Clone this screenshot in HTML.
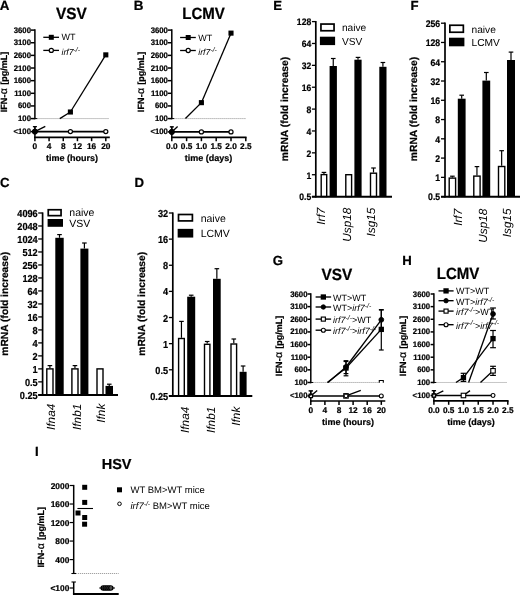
<!DOCTYPE html>
<html><head><meta charset="utf-8"><title>Figure</title>
<style>html,body{margin:0;padding:0;background:#fff;}svg{display:block;}text{font-family:"Liberation Sans", Arial, sans-serif;fill:#000;text-rendering:geometricPrecision;}</style></head><body>
<svg width="520" height="595" viewBox="0 0 520 595">
<rect x="0" y="0" width="520" height="595" fill="#fff"/>
<g>
<text x="-0.30" y="9.50" text-anchor="start" style="font-size:13.4px;font-weight:bold;stroke:#000;stroke-width:0.22px;" >A</text>
<text x="0" y="0" text-anchor="middle" style="font-size:16.2px;font-weight:bold;stroke:#000;stroke-width:0.22px;" transform="translate(71.40 18.80) scale(0.95 1)" >VSV</text>
<line x1="34.90" y1="29.35" x2="34.90" y2="119.33" stroke="#000" stroke-width="1.5" />
<line x1="30.90" y1="30.10" x2="34.90" y2="30.10" stroke="#000" stroke-width="1.5" />
<text x="0" y="0" text-anchor="end" style="font-size:8px;font-weight:bold;stroke:#000;stroke-width:0.22px;" transform="translate(31.00 32.63) scale(0.97 1)" >3600</text>
<line x1="30.90" y1="42.74" x2="34.90" y2="42.74" stroke="#000" stroke-width="1.5" />
<text x="0" y="0" text-anchor="end" style="font-size:8px;font-weight:bold;stroke:#000;stroke-width:0.22px;" transform="translate(31.00 45.27) scale(0.97 1)" >3100</text>
<line x1="30.90" y1="55.38" x2="34.90" y2="55.38" stroke="#000" stroke-width="1.5" />
<text x="0" y="0" text-anchor="end" style="font-size:8px;font-weight:bold;stroke:#000;stroke-width:0.22px;" transform="translate(31.00 57.91) scale(0.97 1)" >2600</text>
<line x1="30.90" y1="68.02" x2="34.90" y2="68.02" stroke="#000" stroke-width="1.5" />
<text x="0" y="0" text-anchor="end" style="font-size:8px;font-weight:bold;stroke:#000;stroke-width:0.22px;" transform="translate(31.00 70.55) scale(0.97 1)" >2100</text>
<line x1="30.90" y1="80.66" x2="34.90" y2="80.66" stroke="#000" stroke-width="1.5" />
<text x="0" y="0" text-anchor="end" style="font-size:8px;font-weight:bold;stroke:#000;stroke-width:0.22px;" transform="translate(31.00 83.19) scale(0.97 1)" >1600</text>
<line x1="30.90" y1="93.30" x2="34.90" y2="93.30" stroke="#000" stroke-width="1.5" />
<text x="0" y="0" text-anchor="end" style="font-size:8px;font-weight:bold;stroke:#000;stroke-width:0.22px;" transform="translate(31.00 95.83) scale(0.97 1)" >1100</text>
<line x1="30.90" y1="105.94" x2="34.90" y2="105.94" stroke="#000" stroke-width="1.5" />
<text x="0" y="0" text-anchor="end" style="font-size:8px;font-weight:bold;stroke:#000;stroke-width:0.22px;" transform="translate(31.00 108.47) scale(0.97 1)" >600</text>
<line x1="30.90" y1="118.58" x2="34.90" y2="118.58" stroke="#000" stroke-width="1.5" />
<text x="0" y="0" text-anchor="end" style="font-size:8px;font-weight:bold;stroke:#000;stroke-width:0.22px;" transform="translate(31.00 121.11) scale(0.97 1)" >100</text>
<line x1="32.40" y1="118.58" x2="37.40" y2="118.58" stroke="#000" stroke-width="1.0" />
<line x1="37.40" y1="118.58" x2="109.00" y2="118.58" stroke="#888" stroke-width="0.8" stroke-dasharray="1.2 0.8"/>
<line x1="34.90" y1="126.60" x2="34.90" y2="137.95" stroke="#000" stroke-width="1.5" />
<line x1="32.90" y1="126.60" x2="36.90" y2="126.60" stroke="#000" stroke-width="1.0" />
<line x1="30.90" y1="131.60" x2="34.90" y2="131.60" stroke="#000" stroke-width="1.5" />
<text x="0" y="0" text-anchor="end" style="font-size:8px;font-weight:bold;stroke:#000;stroke-width:0.22px;" transform="translate(31.00 134.13) scale(0.97 1)" >&lt;100</text>
<line x1="34.15" y1="137.30" x2="109.80" y2="137.30" stroke="#000" stroke-width="1.7" />
<line x1="34.90" y1="137.20" x2="34.90" y2="141.20" stroke="#000" stroke-width="1.5" />
<text x="34.90" y="149.00" text-anchor="middle" style="font-size:8.3px;font-weight:bold;stroke:#000;stroke-width:0.22px;" >0</text>
<line x1="49.08" y1="137.20" x2="49.08" y2="141.20" stroke="#000" stroke-width="1.5" />
<text x="49.08" y="149.00" text-anchor="middle" style="font-size:8.3px;font-weight:bold;stroke:#000;stroke-width:0.22px;" >4</text>
<line x1="63.26" y1="137.20" x2="63.26" y2="141.20" stroke="#000" stroke-width="1.5" />
<text x="63.26" y="149.00" text-anchor="middle" style="font-size:8.3px;font-weight:bold;stroke:#000;stroke-width:0.22px;" >8</text>
<line x1="77.44" y1="137.20" x2="77.44" y2="141.20" stroke="#000" stroke-width="1.5" />
<text x="77.44" y="149.00" text-anchor="middle" style="font-size:8.3px;font-weight:bold;stroke:#000;stroke-width:0.22px;" >12</text>
<line x1="91.62" y1="137.20" x2="91.62" y2="141.20" stroke="#000" stroke-width="1.5" />
<text x="91.62" y="149.00" text-anchor="middle" style="font-size:8.3px;font-weight:bold;stroke:#000;stroke-width:0.22px;" >16</text>
<line x1="105.80" y1="137.20" x2="105.80" y2="141.20" stroke="#000" stroke-width="1.5" />
<text x="105.80" y="149.00" text-anchor="middle" style="font-size:8.3px;font-weight:bold;stroke:#000;stroke-width:0.22px;" >20</text>
<text x="72.00" y="160.80" text-anchor="middle" style="font-size:9px;font-weight:bold;stroke:#000;stroke-width:0.22px;" >time (hours)</text>
<text x="7.00" y="82.10" text-anchor="middle" style="font-size:9px;font-weight:bold;stroke:#000;stroke-width:0.22px;" transform="rotate(-90 7.00 82.10)" ><tspan style="letter-spacing:0.1px">IFN-</tspan><tspan dx="0.3" style="font-weight:normal;font-size:10.5px">&#945;</tspan><tspan dx="0.7"> [pg/mL]</tspan></text>
<line x1="34.90" y1="131.60" x2="105.80" y2="131.60" stroke="#000" stroke-width="1.6" />
<line x1="34.90" y1="131.60" x2="45.30" y2="126.30" stroke="#000" stroke-width="1.3" />
<line x1="59.80" y1="118.58" x2="70.40" y2="112.01" stroke="#000" stroke-width="1.3" />
<line x1="70.40" y1="112.01" x2="105.80" y2="54.87" stroke="#000" stroke-width="1.3" />
<rect x="67.85" y="109.46" width="5.1" height="5.1" fill="#000"/>
<rect x="103.25" y="52.32" width="5.1" height="5.1" fill="#000"/>
<circle cx="70.40" cy="131.60" r="2.05" fill="#fff" stroke="#000" stroke-width="1.2"/>
<circle cx="105.80" cy="131.60" r="2.05" fill="#fff" stroke="#000" stroke-width="1.2"/>
<circle cx="34.90" cy="131.60" r="2.6" fill="#000" stroke="#000" stroke-width="1.0"/>
<line x1="34.90" y1="126.80" x2="34.90" y2="131.60" stroke="#000" stroke-width="1.0" />
<line x1="33.10" y1="126.80" x2="36.70" y2="126.80" stroke="#000" stroke-width="1.0" />
<line x1="43.30" y1="37.30" x2="59.00" y2="37.30" stroke="#000" stroke-width="1.3" />
<rect x="48.80" y="34.80" width="5.0" height="5.0" fill="#000"/>
<text x="61.50" y="40.10" text-anchor="start" style="font-size:9px;" >WT</text>
<line x1="43.30" y1="50.40" x2="59.00" y2="50.40" stroke="#000" stroke-width="1.3" />
<circle cx="51.30" cy="50.40" r="2.05" fill="#fff" stroke="#000" stroke-width="1.2"/>
<text x="61.50" y="54.90" text-anchor="start" style="font-size:8.7px;" ><tspan style="font-style:italic">irf7</tspan><tspan dy="-3.3" style="font-size:6.8px;font-style:italic">-/-</tspan><tspan dy="3.3"></tspan></text>
<text x="133.80" y="9.50" text-anchor="start" style="font-size:13.4px;font-weight:bold;stroke:#000;stroke-width:0.22px;" >B</text>
<text x="0" y="0" text-anchor="middle" style="font-size:16.2px;font-weight:bold;stroke:#000;stroke-width:0.22px;" transform="translate(203.50 18.60) scale(0.93 1)" >LCMV</text>
<line x1="171.80" y1="29.35" x2="171.80" y2="119.33" stroke="#000" stroke-width="1.5" />
<line x1="167.80" y1="30.10" x2="171.80" y2="30.10" stroke="#000" stroke-width="1.5" />
<text x="0" y="0" text-anchor="end" style="font-size:8px;font-weight:bold;stroke:#000;stroke-width:0.22px;" transform="translate(167.90 32.63) scale(0.97 1)" >3600</text>
<line x1="167.80" y1="42.74" x2="171.80" y2="42.74" stroke="#000" stroke-width="1.5" />
<text x="0" y="0" text-anchor="end" style="font-size:8px;font-weight:bold;stroke:#000;stroke-width:0.22px;" transform="translate(167.90 45.27) scale(0.97 1)" >3100</text>
<line x1="167.80" y1="55.38" x2="171.80" y2="55.38" stroke="#000" stroke-width="1.5" />
<text x="0" y="0" text-anchor="end" style="font-size:8px;font-weight:bold;stroke:#000;stroke-width:0.22px;" transform="translate(167.90 57.91) scale(0.97 1)" >2600</text>
<line x1="167.80" y1="68.02" x2="171.80" y2="68.02" stroke="#000" stroke-width="1.5" />
<text x="0" y="0" text-anchor="end" style="font-size:8px;font-weight:bold;stroke:#000;stroke-width:0.22px;" transform="translate(167.90 70.55) scale(0.97 1)" >2100</text>
<line x1="167.80" y1="80.66" x2="171.80" y2="80.66" stroke="#000" stroke-width="1.5" />
<text x="0" y="0" text-anchor="end" style="font-size:8px;font-weight:bold;stroke:#000;stroke-width:0.22px;" transform="translate(167.90 83.19) scale(0.97 1)" >1600</text>
<line x1="167.80" y1="93.30" x2="171.80" y2="93.30" stroke="#000" stroke-width="1.5" />
<text x="0" y="0" text-anchor="end" style="font-size:8px;font-weight:bold;stroke:#000;stroke-width:0.22px;" transform="translate(167.90 95.83) scale(0.97 1)" >1100</text>
<line x1="167.80" y1="105.94" x2="171.80" y2="105.94" stroke="#000" stroke-width="1.5" />
<text x="0" y="0" text-anchor="end" style="font-size:8px;font-weight:bold;stroke:#000;stroke-width:0.22px;" transform="translate(167.90 108.47) scale(0.97 1)" >600</text>
<line x1="167.80" y1="118.58" x2="171.80" y2="118.58" stroke="#000" stroke-width="1.5" />
<text x="0" y="0" text-anchor="end" style="font-size:8px;font-weight:bold;stroke:#000;stroke-width:0.22px;" transform="translate(167.90 121.11) scale(0.97 1)" >100</text>
<line x1="169.30" y1="118.58" x2="174.30" y2="118.58" stroke="#000" stroke-width="1.0" />
<line x1="174.30" y1="118.58" x2="246.00" y2="118.58" stroke="#888" stroke-width="0.8" stroke-dasharray="1.2 0.8"/>
<line x1="171.80" y1="126.90" x2="171.80" y2="137.95" stroke="#000" stroke-width="1.5" />
<line x1="169.80" y1="126.90" x2="173.80" y2="126.90" stroke="#000" stroke-width="1.0" />
<line x1="167.80" y1="131.90" x2="171.80" y2="131.90" stroke="#000" stroke-width="1.5" />
<text x="0" y="0" text-anchor="end" style="font-size:8px;font-weight:bold;stroke:#000;stroke-width:0.22px;" transform="translate(167.90 134.43) scale(0.97 1)" >&lt;100</text>
<line x1="171.05" y1="137.30" x2="246.55" y2="137.30" stroke="#000" stroke-width="1.7" />
<line x1="171.80" y1="137.20" x2="171.80" y2="141.20" stroke="#000" stroke-width="1.5" />
<text x="171.80" y="149.00" text-anchor="middle" style="font-size:8.3px;font-weight:bold;stroke:#000;stroke-width:0.22px;" >0.0</text>
<line x1="186.60" y1="137.20" x2="186.60" y2="141.20" stroke="#000" stroke-width="1.5" />
<text x="186.60" y="149.00" text-anchor="middle" style="font-size:8.3px;font-weight:bold;stroke:#000;stroke-width:0.22px;" >0.5</text>
<line x1="201.40" y1="137.20" x2="201.40" y2="141.20" stroke="#000" stroke-width="1.5" />
<text x="201.40" y="149.00" text-anchor="middle" style="font-size:8.3px;font-weight:bold;stroke:#000;stroke-width:0.22px;" >1.0</text>
<line x1="216.20" y1="137.20" x2="216.20" y2="141.20" stroke="#000" stroke-width="1.5" />
<text x="216.20" y="149.00" text-anchor="middle" style="font-size:8.3px;font-weight:bold;stroke:#000;stroke-width:0.22px;" >1.5</text>
<line x1="231.00" y1="137.20" x2="231.00" y2="141.20" stroke="#000" stroke-width="1.5" />
<text x="231.00" y="149.00" text-anchor="middle" style="font-size:8.3px;font-weight:bold;stroke:#000;stroke-width:0.22px;" >2.0</text>
<line x1="245.80" y1="137.20" x2="245.80" y2="141.20" stroke="#000" stroke-width="1.5" />
<text x="245.80" y="149.00" text-anchor="middle" style="font-size:8.3px;font-weight:bold;stroke:#000;stroke-width:0.22px;" >2.5</text>
<text x="208.50" y="160.80" text-anchor="middle" style="font-size:9px;font-weight:bold;stroke:#000;stroke-width:0.22px;" >time (days)</text>
<text x="144.20" y="81.90" text-anchor="middle" style="font-size:9px;font-weight:bold;stroke:#000;stroke-width:0.22px;" transform="rotate(-90 144.20 81.90)" ><tspan style="letter-spacing:0.1px">IFN-</tspan><tspan dx="0.3" style="font-weight:normal;font-size:10.5px">&#945;</tspan><tspan dx="0.7"> [pg/mL]</tspan></text>
<line x1="171.80" y1="131.90" x2="231.00" y2="131.90" stroke="#000" stroke-width="1.6" />
<line x1="171.80" y1="131.90" x2="177.60" y2="126.60" stroke="#000" stroke-width="1.3" />
<line x1="185.40" y1="118.58" x2="201.40" y2="102.65" stroke="#000" stroke-width="1.3" />
<line x1="201.40" y1="102.65" x2="231.00" y2="33.13" stroke="#000" stroke-width="1.3" />
<rect x="198.85" y="100.10" width="5.1" height="5.1" fill="#000"/>
<rect x="228.45" y="30.58" width="5.1" height="5.1" fill="#000"/>
<circle cx="201.40" cy="131.90" r="2.05" fill="#fff" stroke="#000" stroke-width="1.2"/>
<circle cx="231.00" cy="131.90" r="2.05" fill="#fff" stroke="#000" stroke-width="1.2"/>
<circle cx="171.80" cy="131.90" r="2.6" fill="#000" stroke="#000" stroke-width="1.0"/>
<line x1="171.80" y1="126.80" x2="171.80" y2="131.90" stroke="#000" stroke-width="1.0" />
<line x1="170.00" y1="126.80" x2="173.60" y2="126.80" stroke="#000" stroke-width="1.0" />
<line x1="180.10" y1="37.50" x2="195.80" y2="37.50" stroke="#000" stroke-width="1.3" />
<rect x="185.70" y="35.00" width="5.0" height="5.0" fill="#000"/>
<text x="198.30" y="40.50" text-anchor="start" style="font-size:9px;" >WT</text>
<line x1="180.10" y1="50.50" x2="195.80" y2="50.50" stroke="#000" stroke-width="1.3" />
<circle cx="188.20" cy="50.50" r="2.05" fill="#fff" stroke="#000" stroke-width="1.2"/>
<text x="198.30" y="55.20" text-anchor="start" style="font-size:8.7px;" ><tspan style="font-style:italic">irf7</tspan><tspan dy="-3.3" style="font-size:6.8px;font-style:italic">-/-</tspan><tspan dy="3.3"></tspan></text>
<line x1="42.60" y1="212.40" x2="42.60" y2="395.71" stroke="#000" stroke-width="1.7" />
<line x1="38.20" y1="213.00" x2="42.60" y2="213.00" stroke="#000" stroke-width="1.3" />
<text x="0" y="0" text-anchor="end" style="font-size:10.08px;font-weight:bold;stroke:#000;stroke-width:0.22px;" transform="translate(37.70 217.03) scale(0.91 1)" >4096</text>
<line x1="38.20" y1="225.99" x2="42.60" y2="225.99" stroke="#000" stroke-width="1.3" />
<text x="0" y="0" text-anchor="end" style="font-size:10.08px;font-weight:bold;stroke:#000;stroke-width:0.22px;" transform="translate(37.70 230.02) scale(0.91 1)" >2048</text>
<line x1="38.20" y1="238.98" x2="42.60" y2="238.98" stroke="#000" stroke-width="1.3" />
<text x="0" y="0" text-anchor="end" style="font-size:10.08px;font-weight:bold;stroke:#000;stroke-width:0.22px;" transform="translate(37.70 243.01) scale(0.91 1)" >1024</text>
<line x1="38.20" y1="251.97" x2="42.60" y2="251.97" stroke="#000" stroke-width="1.3" />
<text x="0" y="0" text-anchor="end" style="font-size:10.08px;font-weight:bold;stroke:#000;stroke-width:0.22px;" transform="translate(37.70 256.00) scale(0.91 1)" >512</text>
<line x1="38.20" y1="264.96" x2="42.60" y2="264.96" stroke="#000" stroke-width="1.3" />
<text x="0" y="0" text-anchor="end" style="font-size:10.08px;font-weight:bold;stroke:#000;stroke-width:0.22px;" transform="translate(37.70 268.99) scale(0.91 1)" >256</text>
<line x1="38.20" y1="277.95" x2="42.60" y2="277.95" stroke="#000" stroke-width="1.3" />
<text x="0" y="0" text-anchor="end" style="font-size:10.08px;font-weight:bold;stroke:#000;stroke-width:0.22px;" transform="translate(37.70 281.98) scale(0.91 1)" >128</text>
<line x1="38.20" y1="290.94" x2="42.60" y2="290.94" stroke="#000" stroke-width="1.3" />
<text x="0" y="0" text-anchor="end" style="font-size:10.08px;font-weight:bold;stroke:#000;stroke-width:0.22px;" transform="translate(37.70 294.97) scale(0.91 1)" >64</text>
<line x1="38.20" y1="303.93" x2="42.60" y2="303.93" stroke="#000" stroke-width="1.3" />
<text x="0" y="0" text-anchor="end" style="font-size:10.08px;font-weight:bold;stroke:#000;stroke-width:0.22px;" transform="translate(37.70 307.96) scale(0.91 1)" >32</text>
<line x1="38.20" y1="316.92" x2="42.60" y2="316.92" stroke="#000" stroke-width="1.3" />
<text x="0" y="0" text-anchor="end" style="font-size:10.08px;font-weight:bold;stroke:#000;stroke-width:0.22px;" transform="translate(37.70 320.95) scale(0.91 1)" >16</text>
<line x1="38.20" y1="329.91" x2="42.60" y2="329.91" stroke="#000" stroke-width="1.3" />
<text x="0" y="0" text-anchor="end" style="font-size:10.08px;font-weight:bold;stroke:#000;stroke-width:0.22px;" transform="translate(37.70 333.94) scale(0.91 1)" >8</text>
<line x1="38.20" y1="342.90" x2="42.60" y2="342.90" stroke="#000" stroke-width="1.3" />
<text x="0" y="0" text-anchor="end" style="font-size:10.08px;font-weight:bold;stroke:#000;stroke-width:0.22px;" transform="translate(37.70 346.93) scale(0.91 1)" >4</text>
<line x1="38.20" y1="355.89" x2="42.60" y2="355.89" stroke="#000" stroke-width="1.3" />
<text x="0" y="0" text-anchor="end" style="font-size:10.08px;font-weight:bold;stroke:#000;stroke-width:0.22px;" transform="translate(37.70 359.92) scale(0.91 1)" >2</text>
<line x1="38.20" y1="368.88" x2="42.60" y2="368.88" stroke="#000" stroke-width="1.3" />
<text x="0" y="0" text-anchor="end" style="font-size:10.08px;font-weight:bold;stroke:#000;stroke-width:0.22px;" transform="translate(37.70 372.91) scale(0.91 1)" >1</text>
<line x1="38.20" y1="381.87" x2="42.60" y2="381.87" stroke="#000" stroke-width="1.3" />
<text x="0" y="0" text-anchor="end" style="font-size:10.08px;font-weight:bold;stroke:#000;stroke-width:0.22px;" transform="translate(37.70 385.90) scale(0.91 1)" >0.5</text>
<line x1="38.20" y1="394.86" x2="42.60" y2="394.86" stroke="#000" stroke-width="1.3" />
<text x="0" y="0" text-anchor="end" style="font-size:10.08px;font-weight:bold;stroke:#000;stroke-width:0.22px;" transform="translate(37.70 398.89) scale(0.91 1)" >0.25</text>
<line x1="49.90" y1="365.60" x2="49.90" y2="368.18" stroke="#000" stroke-width="1.2" />
<line x1="47.60" y1="365.60" x2="52.20" y2="365.60" stroke="#000" stroke-width="1.2" />
<rect x="46.80" y="368.88" width="6.20" height="25.98" fill="#fff" stroke="#000" stroke-width="1.4"/>
<line x1="59.50" y1="234.60" x2="59.50" y2="237.80" stroke="#000" stroke-width="1.2" />
<line x1="57.20" y1="234.60" x2="61.80" y2="234.60" stroke="#000" stroke-width="1.2" />
<rect x="55.30" y="237.80" width="8.40" height="157.06" fill="#000"/>
<line x1="74.95" y1="365.60" x2="74.95" y2="368.18" stroke="#000" stroke-width="1.2" />
<line x1="72.65" y1="365.60" x2="77.25" y2="365.60" stroke="#000" stroke-width="1.2" />
<rect x="71.90" y="368.88" width="6.10" height="25.98" fill="#fff" stroke="#000" stroke-width="1.4"/>
<line x1="84.40" y1="243.00" x2="84.40" y2="248.60" stroke="#000" stroke-width="1.2" />
<line x1="82.10" y1="243.00" x2="86.70" y2="243.00" stroke="#000" stroke-width="1.2" />
<rect x="80.40" y="248.60" width="8.00" height="146.26" fill="#000"/>
<rect x="97.00" y="368.88" width="6.00" height="25.98" fill="#fff" stroke="#000" stroke-width="1.4"/>
<line x1="109.25" y1="384.20" x2="109.25" y2="385.90" stroke="#000" stroke-width="1.2" />
<line x1="106.95" y1="384.20" x2="111.55" y2="384.20" stroke="#000" stroke-width="1.2" />
<rect x="105.50" y="385.90" width="7.50" height="8.96" fill="#000"/>
<line x1="38.20" y1="395.01" x2="118.00" y2="395.01" stroke="#000" stroke-width="1.9" />
<text x="54.60" y="403.70" text-anchor="end" style="font-size:11.8px;font-style:italic;" transform="rotate(-90 54.60 403.70)" >Ifna4</text>
<text x="80.70" y="403.70" text-anchor="end" style="font-size:11.8px;font-style:italic;" transform="rotate(-90 80.70 403.70)" >Ifnb1</text>
<text x="104.70" y="403.70" text-anchor="end" style="font-size:11.8px;font-style:italic;" transform="rotate(-90 104.70 403.70)" >Ifnk</text>
<rect x="48.25" y="209.75" width="12.80" height="5.90" fill="#fff" stroke="#000" stroke-width="1.7"/>
<rect x="47.60" y="219.00" width="15.40" height="7.80" fill="#000"/>
<text x="69.30" y="216.30" text-anchor="start" style="font-size:10.5px;" >naive</text>
<text x="69.30" y="226.50" text-anchor="start" style="font-size:10.5px;" >VSV</text>
<text x="8.10" y="303.80" text-anchor="middle" style="font-size:10.25px;font-weight:bold;stroke:#000;stroke-width:0.22px;" transform="rotate(-90 8.10 303.80)" >mRNA (fold increase)</text>
<text x="0.10" y="186.80" text-anchor="start" style="font-size:13.2px;font-weight:bold;stroke:#000;stroke-width:0.22px;" >C</text>
<line x1="172.80" y1="212.40" x2="172.80" y2="396.76" stroke="#000" stroke-width="1.7" />
<line x1="168.90" y1="213.00" x2="172.80" y2="213.00" stroke="#000" stroke-width="1.3" />
<text x="0" y="0" text-anchor="end" style="font-size:10.08px;font-weight:bold;stroke:#000;stroke-width:0.22px;" transform="translate(168.10 217.03) scale(0.91 1)" >32</text>
<line x1="168.90" y1="239.13" x2="172.80" y2="239.13" stroke="#000" stroke-width="1.3" />
<text x="0" y="0" text-anchor="end" style="font-size:10.08px;font-weight:bold;stroke:#000;stroke-width:0.22px;" transform="translate(168.10 243.16) scale(0.91 1)" >16</text>
<line x1="168.90" y1="265.26" x2="172.80" y2="265.26" stroke="#000" stroke-width="1.3" />
<text x="0" y="0" text-anchor="end" style="font-size:10.08px;font-weight:bold;stroke:#000;stroke-width:0.22px;" transform="translate(168.10 269.29) scale(0.91 1)" >8</text>
<line x1="168.90" y1="291.39" x2="172.80" y2="291.39" stroke="#000" stroke-width="1.3" />
<text x="0" y="0" text-anchor="end" style="font-size:10.08px;font-weight:bold;stroke:#000;stroke-width:0.22px;" transform="translate(168.10 295.42) scale(0.91 1)" >4</text>
<line x1="168.90" y1="317.52" x2="172.80" y2="317.52" stroke="#000" stroke-width="1.3" />
<text x="0" y="0" text-anchor="end" style="font-size:10.08px;font-weight:bold;stroke:#000;stroke-width:0.22px;" transform="translate(168.10 321.55) scale(0.91 1)" >2</text>
<line x1="168.90" y1="343.65" x2="172.80" y2="343.65" stroke="#000" stroke-width="1.3" />
<text x="0" y="0" text-anchor="end" style="font-size:10.08px;font-weight:bold;stroke:#000;stroke-width:0.22px;" transform="translate(168.10 347.68) scale(0.91 1)" >1</text>
<line x1="168.90" y1="369.78" x2="172.80" y2="369.78" stroke="#000" stroke-width="1.3" />
<text x="0" y="0" text-anchor="end" style="font-size:10.08px;font-weight:bold;stroke:#000;stroke-width:0.22px;" transform="translate(168.10 373.81) scale(0.91 1)" >0.5</text>
<line x1="168.90" y1="395.91" x2="172.80" y2="395.91" stroke="#000" stroke-width="1.3" />
<text x="0" y="0" text-anchor="end" style="font-size:10.08px;font-weight:bold;stroke:#000;stroke-width:0.22px;" transform="translate(168.10 399.94) scale(0.91 1)" >0.25</text>
<line x1="181.45" y1="321.40" x2="181.45" y2="337.80" stroke="#000" stroke-width="1.2" />
<line x1="179.15" y1="321.40" x2="183.75" y2="321.40" stroke="#000" stroke-width="1.2" />
<rect x="178.60" y="338.50" width="5.70" height="57.41" fill="#fff" stroke="#000" stroke-width="1.4"/>
<line x1="191.20" y1="295.20" x2="191.20" y2="296.70" stroke="#000" stroke-width="1.2" />
<line x1="188.90" y1="295.20" x2="193.50" y2="295.20" stroke="#000" stroke-width="1.2" />
<rect x="187.20" y="296.70" width="8.00" height="99.21" fill="#000"/>
<line x1="207.20" y1="341.50" x2="207.20" y2="343.60" stroke="#000" stroke-width="1.2" />
<line x1="204.90" y1="341.50" x2="209.50" y2="341.50" stroke="#000" stroke-width="1.2" />
<rect x="204.50" y="344.30" width="5.40" height="51.61" fill="#fff" stroke="#000" stroke-width="1.4"/>
<line x1="216.85" y1="268.70" x2="216.85" y2="278.80" stroke="#000" stroke-width="1.2" />
<line x1="214.55" y1="268.70" x2="219.15" y2="268.70" stroke="#000" stroke-width="1.2" />
<rect x="213.00" y="278.80" width="7.70" height="117.11" fill="#000"/>
<line x1="233.80" y1="339.00" x2="233.80" y2="343.30" stroke="#000" stroke-width="1.2" />
<line x1="231.50" y1="339.00" x2="236.10" y2="339.00" stroke="#000" stroke-width="1.2" />
<rect x="231.00" y="344.00" width="5.60" height="51.91" fill="#fff" stroke="#000" stroke-width="1.4"/>
<line x1="243.10" y1="366.00" x2="243.10" y2="371.80" stroke="#000" stroke-width="1.2" />
<line x1="240.80" y1="366.00" x2="245.40" y2="366.00" stroke="#000" stroke-width="1.2" />
<rect x="239.60" y="371.80" width="7.00" height="24.11" fill="#000"/>
<line x1="168.90" y1="396.06" x2="252.30" y2="396.06" stroke="#000" stroke-width="1.9" />
<text x="189.50" y="406.70" text-anchor="end" style="font-size:11.8px;font-style:italic;" transform="rotate(-90 189.50 406.70)" >Ifna4</text>
<text x="214.90" y="406.70" text-anchor="end" style="font-size:11.8px;font-style:italic;" transform="rotate(-90 214.90 406.70)" >Ifnb1</text>
<text x="240.00" y="406.70" text-anchor="end" style="font-size:11.8px;font-style:italic;" transform="rotate(-90 240.00 406.70)" >Ifnk</text>
<rect x="178.50" y="214.50" width="13.90" height="6.40" fill="#fff" stroke="#000" stroke-width="1.7"/>
<rect x="177.65" y="228.85" width="15.60" height="8.70" fill="#000"/>
<text x="200.70" y="221.60" text-anchor="start" style="font-size:10.5px;" >naive</text>
<text x="200.70" y="237.00" text-anchor="start" style="font-size:10.5px;" >LCMV</text>
<text x="145.20" y="303.80" text-anchor="middle" style="font-size:10.25px;font-weight:bold;stroke:#000;stroke-width:0.22px;" transform="rotate(-90 145.20 303.80)" >mRNA (fold increase)</text>
<text x="134.60" y="186.70" text-anchor="start" style="font-size:13.2px;font-weight:bold;stroke:#000;stroke-width:0.22px;" >D</text>
<line x1="315.80" y1="21.00" x2="315.80" y2="197.45" stroke="#000" stroke-width="1.7" />
<line x1="311.90" y1="21.60" x2="315.80" y2="21.60" stroke="#000" stroke-width="1.3" />
<text x="0" y="0" text-anchor="end" style="font-size:9.450000000000001px;font-weight:bold;stroke:#000;stroke-width:0.22px;" transform="translate(311.20 25.38) scale(0.91 1)" >128</text>
<line x1="311.90" y1="43.48" x2="315.80" y2="43.48" stroke="#000" stroke-width="1.3" />
<text x="0" y="0" text-anchor="end" style="font-size:9.450000000000001px;font-weight:bold;stroke:#000;stroke-width:0.22px;" transform="translate(311.20 47.26) scale(0.91 1)" >64</text>
<line x1="311.90" y1="65.35" x2="315.80" y2="65.35" stroke="#000" stroke-width="1.3" />
<text x="0" y="0" text-anchor="end" style="font-size:9.450000000000001px;font-weight:bold;stroke:#000;stroke-width:0.22px;" transform="translate(311.20 69.13) scale(0.91 1)" >32</text>
<line x1="311.90" y1="87.22" x2="315.80" y2="87.22" stroke="#000" stroke-width="1.3" />
<text x="0" y="0" text-anchor="end" style="font-size:9.450000000000001px;font-weight:bold;stroke:#000;stroke-width:0.22px;" transform="translate(311.20 91.00) scale(0.91 1)" >16</text>
<line x1="311.90" y1="109.10" x2="315.80" y2="109.10" stroke="#000" stroke-width="1.3" />
<text x="0" y="0" text-anchor="end" style="font-size:9.450000000000001px;font-weight:bold;stroke:#000;stroke-width:0.22px;" transform="translate(311.20 112.88) scale(0.91 1)" >8</text>
<line x1="311.90" y1="130.97" x2="315.80" y2="130.97" stroke="#000" stroke-width="1.3" />
<text x="0" y="0" text-anchor="end" style="font-size:9.450000000000001px;font-weight:bold;stroke:#000;stroke-width:0.22px;" transform="translate(311.20 134.75) scale(0.91 1)" >4</text>
<line x1="311.90" y1="152.85" x2="315.80" y2="152.85" stroke="#000" stroke-width="1.3" />
<text x="0" y="0" text-anchor="end" style="font-size:9.450000000000001px;font-weight:bold;stroke:#000;stroke-width:0.22px;" transform="translate(311.20 156.63) scale(0.91 1)" >2</text>
<line x1="311.90" y1="174.72" x2="315.80" y2="174.72" stroke="#000" stroke-width="1.3" />
<text x="0" y="0" text-anchor="end" style="font-size:9.450000000000001px;font-weight:bold;stroke:#000;stroke-width:0.22px;" transform="translate(311.20 178.50) scale(0.91 1)" >1</text>
<line x1="311.90" y1="196.60" x2="315.80" y2="196.60" stroke="#000" stroke-width="1.3" />
<text x="0" y="0" text-anchor="end" style="font-size:9.450000000000001px;font-weight:bold;stroke:#000;stroke-width:0.22px;" transform="translate(311.20 200.38) scale(0.91 1)" >0.5</text>
<line x1="323.95" y1="172.40" x2="323.95" y2="173.90" stroke="#000" stroke-width="1.2" />
<line x1="321.65" y1="172.40" x2="326.25" y2="172.40" stroke="#000" stroke-width="1.2" />
<rect x="321.20" y="174.60" width="5.50" height="22.00" fill="#fff" stroke="#000" stroke-width="1.4"/>
<line x1="333.25" y1="58.50" x2="333.25" y2="66.00" stroke="#000" stroke-width="1.2" />
<line x1="330.95" y1="58.50" x2="335.55" y2="58.50" stroke="#000" stroke-width="1.2" />
<rect x="329.60" y="66.00" width="7.30" height="130.60" fill="#000"/>
<rect x="345.80" y="174.70" width="5.80" height="21.90" fill="#fff" stroke="#000" stroke-width="1.4"/>
<line x1="358.00" y1="57.40" x2="358.00" y2="59.70" stroke="#000" stroke-width="1.2" />
<line x1="355.70" y1="57.40" x2="360.30" y2="57.40" stroke="#000" stroke-width="1.2" />
<rect x="354.40" y="59.70" width="7.20" height="136.90" fill="#000"/>
<line x1="373.50" y1="168.00" x2="373.50" y2="172.50" stroke="#000" stroke-width="1.2" />
<line x1="371.20" y1="168.00" x2="375.80" y2="168.00" stroke="#000" stroke-width="1.2" />
<rect x="370.50" y="173.20" width="6.00" height="23.40" fill="#fff" stroke="#000" stroke-width="1.4"/>
<line x1="382.90" y1="62.50" x2="382.90" y2="66.80" stroke="#000" stroke-width="1.2" />
<line x1="380.60" y1="62.50" x2="385.20" y2="62.50" stroke="#000" stroke-width="1.2" />
<rect x="379.30" y="66.80" width="7.20" height="129.80" fill="#000"/>
<line x1="311.90" y1="196.75" x2="392.00" y2="196.75" stroke="#000" stroke-width="1.9" />
<text x="325.40" y="207.60" text-anchor="end" style="font-size:11.8px;font-style:italic;" transform="rotate(-90 325.40 207.60)" >Irf7</text>
<text x="350.90" y="207.60" text-anchor="end" style="font-size:11.8px;font-style:italic;" transform="rotate(-90 350.90 207.60)" >Usp18</text>
<text x="375.50" y="207.60" text-anchor="end" style="font-size:11.8px;font-style:italic;" transform="rotate(-90 375.50 207.60)" >Isg15</text>
<rect x="320.95" y="24.05" width="13.10" height="6.70" fill="#fff" stroke="#000" stroke-width="1.7"/>
<rect x="319.90" y="36.70" width="15.20" height="8.40" fill="#000"/>
<text x="341.90" y="31.30" text-anchor="start" style="font-size:10.2px;" >naive</text>
<text x="341.90" y="44.80" text-anchor="start" style="font-size:10.2px;" >VSV</text>
<text x="288.30" y="109.00" text-anchor="middle" style="font-size:10.3px;font-weight:bold;stroke:#000;stroke-width:0.22px;" transform="rotate(-90 288.30 109.00)" >mRNA (fold increase)</text>
<text x="273.20" y="9.70" text-anchor="start" style="font-size:13.2px;font-weight:bold;stroke:#000;stroke-width:0.22px;" >E</text>
<line x1="445.00" y1="22.60" x2="445.00" y2="197.48" stroke="#000" stroke-width="1.7" />
<line x1="441.00" y1="23.20" x2="445.00" y2="23.20" stroke="#000" stroke-width="1.3" />
<text x="0" y="0" text-anchor="end" style="font-size:9.555px;font-weight:bold;stroke:#000;stroke-width:0.22px;" transform="translate(440.20 27.02) scale(0.91 1)" >256</text>
<line x1="441.00" y1="42.47" x2="445.00" y2="42.47" stroke="#000" stroke-width="1.3" />
<text x="0" y="0" text-anchor="end" style="font-size:9.555px;font-weight:bold;stroke:#000;stroke-width:0.22px;" transform="translate(440.20 46.29) scale(0.91 1)" >128</text>
<line x1="441.00" y1="61.74" x2="445.00" y2="61.74" stroke="#000" stroke-width="1.3" />
<text x="0" y="0" text-anchor="end" style="font-size:9.555px;font-weight:bold;stroke:#000;stroke-width:0.22px;" transform="translate(440.20 65.56) scale(0.91 1)" >64</text>
<line x1="441.00" y1="81.01" x2="445.00" y2="81.01" stroke="#000" stroke-width="1.3" />
<text x="0" y="0" text-anchor="end" style="font-size:9.555px;font-weight:bold;stroke:#000;stroke-width:0.22px;" transform="translate(440.20 84.83) scale(0.91 1)" >32</text>
<line x1="441.00" y1="100.28" x2="445.00" y2="100.28" stroke="#000" stroke-width="1.3" />
<text x="0" y="0" text-anchor="end" style="font-size:9.555px;font-weight:bold;stroke:#000;stroke-width:0.22px;" transform="translate(440.20 104.10) scale(0.91 1)" >16</text>
<line x1="441.00" y1="119.55" x2="445.00" y2="119.55" stroke="#000" stroke-width="1.3" />
<text x="0" y="0" text-anchor="end" style="font-size:9.555px;font-weight:bold;stroke:#000;stroke-width:0.22px;" transform="translate(440.20 123.37) scale(0.91 1)" >8</text>
<line x1="441.00" y1="138.82" x2="445.00" y2="138.82" stroke="#000" stroke-width="1.3" />
<text x="0" y="0" text-anchor="end" style="font-size:9.555px;font-weight:bold;stroke:#000;stroke-width:0.22px;" transform="translate(440.20 142.64) scale(0.91 1)" >4</text>
<line x1="441.00" y1="158.09" x2="445.00" y2="158.09" stroke="#000" stroke-width="1.3" />
<text x="0" y="0" text-anchor="end" style="font-size:9.555px;font-weight:bold;stroke:#000;stroke-width:0.22px;" transform="translate(440.20 161.91) scale(0.91 1)" >2</text>
<line x1="441.00" y1="177.36" x2="445.00" y2="177.36" stroke="#000" stroke-width="1.3" />
<text x="0" y="0" text-anchor="end" style="font-size:9.555px;font-weight:bold;stroke:#000;stroke-width:0.22px;" transform="translate(440.20 181.18) scale(0.91 1)" >1</text>
<line x1="441.00" y1="196.63" x2="445.00" y2="196.63" stroke="#000" stroke-width="1.3" />
<text x="0" y="0" text-anchor="end" style="font-size:9.555px;font-weight:bold;stroke:#000;stroke-width:0.22px;" transform="translate(440.20 200.45) scale(0.91 1)" >0.5</text>
<line x1="452.40" y1="176.20" x2="452.40" y2="177.40" stroke="#000" stroke-width="1.2" />
<line x1="450.10" y1="176.20" x2="454.70" y2="176.20" stroke="#000" stroke-width="1.2" />
<rect x="449.20" y="178.10" width="6.40" height="18.53" fill="#fff" stroke="#000" stroke-width="1.4"/>
<line x1="461.70" y1="95.20" x2="461.70" y2="98.70" stroke="#000" stroke-width="1.2" />
<line x1="459.40" y1="95.20" x2="464.00" y2="95.20" stroke="#000" stroke-width="1.2" />
<rect x="457.80" y="98.70" width="7.80" height="97.93" fill="#000"/>
<line x1="476.95" y1="166.60" x2="476.95" y2="175.40" stroke="#000" stroke-width="1.2" />
<line x1="474.65" y1="166.60" x2="479.25" y2="166.60" stroke="#000" stroke-width="1.2" />
<rect x="473.80" y="176.10" width="6.30" height="20.53" fill="#fff" stroke="#000" stroke-width="1.4"/>
<line x1="486.30" y1="72.50" x2="486.30" y2="80.60" stroke="#000" stroke-width="1.2" />
<line x1="484.00" y1="72.50" x2="488.60" y2="72.50" stroke="#000" stroke-width="1.2" />
<rect x="482.40" y="80.60" width="7.80" height="116.03" fill="#000"/>
<line x1="501.65" y1="150.70" x2="501.65" y2="165.80" stroke="#000" stroke-width="1.2" />
<line x1="499.35" y1="150.70" x2="503.95" y2="150.70" stroke="#000" stroke-width="1.2" />
<rect x="498.50" y="166.50" width="6.30" height="30.13" fill="#fff" stroke="#000" stroke-width="1.4"/>
<line x1="511.00" y1="52.10" x2="511.00" y2="60.00" stroke="#000" stroke-width="1.2" />
<line x1="508.70" y1="52.10" x2="513.30" y2="52.10" stroke="#000" stroke-width="1.2" />
<rect x="507.00" y="60.00" width="8.00" height="136.63" fill="#000"/>
<line x1="441.00" y1="196.78" x2="520.00" y2="196.78" stroke="#000" stroke-width="1.9" />
<text x="461.90" y="208.80" text-anchor="end" style="font-size:11.8px;font-style:italic;" transform="rotate(-90 461.90 208.80)" >Irf7</text>
<text x="487.00" y="208.60" text-anchor="end" style="font-size:11.8px;font-style:italic;" transform="rotate(-90 487.00 208.60)" >Usp18</text>
<text x="511.30" y="208.40" text-anchor="end" style="font-size:11.8px;font-style:italic;" transform="rotate(-90 511.30 208.40)" >Isg15</text>
<rect x="449.85" y="25.25" width="13.50" height="7.00" fill="#fff" stroke="#000" stroke-width="1.7"/>
<rect x="449.00" y="37.70" width="15.40" height="8.60" fill="#000"/>
<text x="471.50" y="32.50" text-anchor="start" style="font-size:10.2px;" >naive</text>
<text x="471.50" y="45.80" text-anchor="start" style="font-size:10.2px;" >LCMV</text>
<text x="417.00" y="109.00" text-anchor="middle" style="font-size:10.3px;font-weight:bold;stroke:#000;stroke-width:0.22px;" transform="rotate(-90 417.00 109.00)" >mRNA (fold increase)</text>
<text x="410.40" y="9.60" text-anchor="start" style="font-size:13.2px;font-weight:bold;stroke:#000;stroke-width:0.22px;" >F</text>
<text x="272.70" y="264.70" text-anchor="start" style="font-size:13.2px;font-weight:bold;stroke:#000;stroke-width:0.22px;" >G</text>
<text x="0" y="0" text-anchor="middle" style="font-size:16.2px;font-weight:bold;stroke:#000;stroke-width:0.22px;" transform="translate(336.80 279.60) scale(0.95 1)" >VSV</text>
<line x1="310.80" y1="293.25" x2="310.80" y2="383.23" stroke="#000" stroke-width="1.5" />
<line x1="307.50" y1="294.00" x2="310.80" y2="294.00" stroke="#000" stroke-width="1.5" />
<text x="0" y="0" text-anchor="end" style="font-size:8px;font-weight:bold;stroke:#000;stroke-width:0.22px;" transform="translate(307.50 296.53) scale(0.97 1)" >3600</text>
<line x1="307.50" y1="306.64" x2="310.80" y2="306.64" stroke="#000" stroke-width="1.5" />
<text x="0" y="0" text-anchor="end" style="font-size:8px;font-weight:bold;stroke:#000;stroke-width:0.22px;" transform="translate(307.50 309.17) scale(0.97 1)" >3100</text>
<line x1="307.50" y1="319.28" x2="310.80" y2="319.28" stroke="#000" stroke-width="1.5" />
<text x="0" y="0" text-anchor="end" style="font-size:8px;font-weight:bold;stroke:#000;stroke-width:0.22px;" transform="translate(307.50 321.81) scale(0.97 1)" >2600</text>
<line x1="307.50" y1="331.92" x2="310.80" y2="331.92" stroke="#000" stroke-width="1.5" />
<text x="0" y="0" text-anchor="end" style="font-size:8px;font-weight:bold;stroke:#000;stroke-width:0.22px;" transform="translate(307.50 334.45) scale(0.97 1)" >2100</text>
<line x1="307.50" y1="344.56" x2="310.80" y2="344.56" stroke="#000" stroke-width="1.5" />
<text x="0" y="0" text-anchor="end" style="font-size:8px;font-weight:bold;stroke:#000;stroke-width:0.22px;" transform="translate(307.50 347.09) scale(0.97 1)" >1600</text>
<line x1="307.50" y1="357.20" x2="310.80" y2="357.20" stroke="#000" stroke-width="1.5" />
<text x="0" y="0" text-anchor="end" style="font-size:8px;font-weight:bold;stroke:#000;stroke-width:0.22px;" transform="translate(307.50 359.73) scale(0.97 1)" >1100</text>
<line x1="307.50" y1="369.84" x2="310.80" y2="369.84" stroke="#000" stroke-width="1.5" />
<text x="0" y="0" text-anchor="end" style="font-size:8px;font-weight:bold;stroke:#000;stroke-width:0.22px;" transform="translate(307.50 372.37) scale(0.97 1)" >600</text>
<line x1="307.50" y1="382.48" x2="310.80" y2="382.48" stroke="#000" stroke-width="1.5" />
<text x="0" y="0" text-anchor="end" style="font-size:8px;font-weight:bold;stroke:#000;stroke-width:0.22px;" transform="translate(307.50 385.01) scale(0.97 1)" >100</text>
<line x1="308.30" y1="382.48" x2="313.30" y2="382.48" stroke="#000" stroke-width="1.0" />
<line x1="313.30" y1="382.48" x2="379.00" y2="382.48" stroke="#888" stroke-width="0.8" stroke-dasharray="1.2 0.8"/>
<line x1="310.80" y1="390.90" x2="310.80" y2="401.65" stroke="#000" stroke-width="1.5" />
<line x1="308.80" y1="390.90" x2="312.80" y2="390.90" stroke="#000" stroke-width="1.0" />
<line x1="307.50" y1="395.90" x2="310.80" y2="395.90" stroke="#000" stroke-width="1.5" />
<text x="0" y="0" text-anchor="end" style="font-size:8px;font-weight:bold;stroke:#000;stroke-width:0.22px;" transform="translate(307.50 398.43) scale(0.97 1)" >&lt;100</text>
<line x1="310.05" y1="401.00" x2="385.30" y2="401.00" stroke="#000" stroke-width="1.7" />
<line x1="310.80" y1="400.90" x2="310.80" y2="404.90" stroke="#000" stroke-width="1.5" />
<text x="310.80" y="413.40" text-anchor="middle" style="font-size:8.3px;font-weight:bold;stroke:#000;stroke-width:0.22px;" >0</text>
<line x1="324.90" y1="400.90" x2="324.90" y2="404.90" stroke="#000" stroke-width="1.5" />
<text x="324.90" y="413.40" text-anchor="middle" style="font-size:8.3px;font-weight:bold;stroke:#000;stroke-width:0.22px;" >4</text>
<line x1="339.00" y1="400.90" x2="339.00" y2="404.90" stroke="#000" stroke-width="1.5" />
<text x="339.00" y="413.40" text-anchor="middle" style="font-size:8.3px;font-weight:bold;stroke:#000;stroke-width:0.22px;" >8</text>
<line x1="353.10" y1="400.90" x2="353.10" y2="404.90" stroke="#000" stroke-width="1.5" />
<text x="353.10" y="413.40" text-anchor="middle" style="font-size:8.3px;font-weight:bold;stroke:#000;stroke-width:0.22px;" >12</text>
<line x1="367.20" y1="400.90" x2="367.20" y2="404.90" stroke="#000" stroke-width="1.5" />
<text x="367.20" y="413.40" text-anchor="middle" style="font-size:8.3px;font-weight:bold;stroke:#000;stroke-width:0.22px;" >16</text>
<line x1="381.30" y1="400.90" x2="381.30" y2="404.90" stroke="#000" stroke-width="1.5" />
<text x="381.30" y="413.40" text-anchor="middle" style="font-size:8.3px;font-weight:bold;stroke:#000;stroke-width:0.22px;" >20</text>
<text x="348.00" y="424.80" text-anchor="middle" style="font-size:9px;font-weight:bold;stroke:#000;stroke-width:0.22px;" >time (hours)</text>
<text x="282.30" y="345.90" text-anchor="middle" style="font-size:9px;font-weight:bold;stroke:#000;stroke-width:0.22px;" transform="rotate(-90 282.30 345.90)" ><tspan style="letter-spacing:0.1px">IFN-</tspan><tspan dx="0.3" style="font-weight:normal;font-size:10.5px">&#945;</tspan><tspan dx="0.7"> [pg/mL]</tspan></text>
<line x1="310.80" y1="395.90" x2="381.30" y2="395.90" stroke="#000" stroke-width="1.5" />
<line x1="310.80" y1="395.90" x2="317.20" y2="390.60" stroke="#000" stroke-width="1.35" />
<line x1="346.00" y1="395.90" x2="360.80" y2="390.40" stroke="#000" stroke-width="1.35" />
<line x1="327.30" y1="382.48" x2="346.00" y2="368.00" stroke="#000" stroke-width="1.35" />
<line x1="346.00" y1="368.00" x2="381.30" y2="329.39" stroke="#000" stroke-width="1.35" />
<line x1="328.00" y1="382.48" x2="346.00" y2="367.00" stroke="#000" stroke-width="1.35" />
<line x1="346.00" y1="367.00" x2="381.30" y2="319.79" stroke="#000" stroke-width="1.35" />
<line x1="346.00" y1="360.70" x2="346.00" y2="375.80" stroke="#000" stroke-width="1.2" />
<line x1="343.60" y1="360.70" x2="348.40" y2="360.70" stroke="#000" stroke-width="1.2" />
<line x1="343.60" y1="375.80" x2="348.40" y2="375.80" stroke="#000" stroke-width="1.2" />
<line x1="346.00" y1="361.50" x2="346.00" y2="373.60" stroke="#000" stroke-width="1.2" />
<line x1="343.60" y1="361.50" x2="348.40" y2="361.50" stroke="#000" stroke-width="1.2" />
<line x1="343.60" y1="373.60" x2="348.40" y2="373.60" stroke="#000" stroke-width="1.2" />
<line x1="381.30" y1="310.00" x2="381.30" y2="350.00" stroke="#000" stroke-width="1.2" />
<line x1="378.90" y1="310.00" x2="383.70" y2="310.00" stroke="#000" stroke-width="1.2" />
<line x1="378.90" y1="350.00" x2="383.70" y2="350.00" stroke="#000" stroke-width="1.2" />
<line x1="381.30" y1="309.60" x2="381.30" y2="330.00" stroke="#000" stroke-width="1.2" />
<line x1="378.90" y1="309.60" x2="383.70" y2="309.60" stroke="#000" stroke-width="1.2" />
<line x1="378.90" y1="330.00" x2="383.70" y2="330.00" stroke="#000" stroke-width="1.2" />
<rect x="343.35" y="365.35" width="5.3" height="5.3" fill="#000"/>
<circle cx="346.00" cy="367.00" r="2.4" fill="#000" stroke="#000" stroke-width="0.9"/>
<rect x="378.65" y="326.74" width="5.3" height="5.3" fill="#000"/>
<circle cx="381.30" cy="319.79" r="2.4" fill="#000" stroke="#000" stroke-width="0.9"/>
<path d="M379.30 382.78V380.48H383.30V382.78" fill="#fff" stroke="#000" stroke-width="1.1"/>
<circle cx="381.30" cy="395.90" r="1.95" fill="#fff" stroke="#000" stroke-width="1.1"/>
<rect x="343.75" y="393.65" width="4.50" height="4.50" fill="#fff" stroke="#000" stroke-width="1.1"/>
<circle cx="346.00" cy="395.90" r="1.9" fill="none" stroke="#000" stroke-width="1.0"/>
<rect x="309.05" y="394.15" width="3.50" height="3.50" fill="#fff" stroke="#000" stroke-width="1.1"/>
<circle cx="310.80" cy="395.90" r="1.8" fill="none" stroke="#000" stroke-width="1.1"/>
<line x1="310.80" y1="390.90" x2="310.80" y2="395.90" stroke="#000" stroke-width="1.0" />
<line x1="308.60" y1="390.90" x2="313.00" y2="390.90" stroke="#000" stroke-width="1.0" />
<line x1="315.60" y1="297.00" x2="331.10" y2="297.00" stroke="#000" stroke-width="1.35" />
<rect x="320.70" y="294.35" width="5.3" height="5.3" fill="#000"/>
<text x="333.00" y="300.50" text-anchor="start" style="font-size:9px;" >WT&gt;WT</text>
<line x1="315.60" y1="307.00" x2="331.10" y2="307.00" stroke="#000" stroke-width="1.35" />
<circle cx="323.35" cy="307.00" r="2.2" fill="#000" stroke="#000" stroke-width="0.9"/>
<text x="333.00" y="311.30" text-anchor="start" style="font-size:9px;" >WT&gt;<tspan style="font-style:italic">irf7</tspan><tspan dy="-3.3" style="font-size:6.8px;font-style:italic">-/-</tspan><tspan dy="3.3"></tspan></text>
<line x1="315.60" y1="319.10" x2="331.10" y2="319.10" stroke="#000" stroke-width="1.35" />
<rect x="321.33" y="317.08" width="4.05" height="4.05" fill="#fff" stroke="#000" stroke-width="1.15"/>
<text x="333.00" y="323.20" text-anchor="start" style="font-size:9px;" ><tspan style="font-style:italic">irf7</tspan><tspan dy="-3.3" style="font-size:6.8px;font-style:italic">-/-</tspan><tspan dy="3.3">&gt;WT</tspan></text>
<line x1="315.60" y1="330.20" x2="331.10" y2="330.20" stroke="#000" stroke-width="1.35" />
<circle cx="323.35" cy="330.20" r="2.0" fill="#fff" stroke="#000" stroke-width="1.15"/>
<text x="333.00" y="334.20" text-anchor="start" style="font-size:9px;" ><tspan style="font-style:italic">irf7</tspan><tspan dy="-3.3" style="font-size:6.8px;font-style:italic">-/-</tspan><tspan dy="3.3">&gt;</tspan><tspan style="font-style:italic">irf7</tspan><tspan dy="-3.3" style="font-size:6.8px;font-style:italic">-/-</tspan><tspan dy="3.3"></tspan></text>
<text x="402.30" y="264.70" text-anchor="start" style="font-size:13.2px;font-weight:bold;stroke:#000;stroke-width:0.22px;" >H</text>
<text x="0" y="0" text-anchor="middle" style="font-size:16.2px;font-weight:bold;stroke:#000;stroke-width:0.22px;" transform="translate(458.00 279.20) scale(0.93 1)" >LCMV</text>
<line x1="433.90" y1="293.25" x2="433.90" y2="383.23" stroke="#000" stroke-width="1.5" />
<line x1="430.60" y1="294.00" x2="433.90" y2="294.00" stroke="#000" stroke-width="1.5" />
<text x="0" y="0" text-anchor="end" style="font-size:8px;font-weight:bold;stroke:#000;stroke-width:0.22px;" transform="translate(430.10 296.53) scale(0.97 1)" >3600</text>
<line x1="430.60" y1="306.64" x2="433.90" y2="306.64" stroke="#000" stroke-width="1.5" />
<text x="0" y="0" text-anchor="end" style="font-size:8px;font-weight:bold;stroke:#000;stroke-width:0.22px;" transform="translate(430.10 309.17) scale(0.97 1)" >3100</text>
<line x1="430.60" y1="319.28" x2="433.90" y2="319.28" stroke="#000" stroke-width="1.5" />
<text x="0" y="0" text-anchor="end" style="font-size:8px;font-weight:bold;stroke:#000;stroke-width:0.22px;" transform="translate(430.10 321.81) scale(0.97 1)" >2600</text>
<line x1="430.60" y1="331.92" x2="433.90" y2="331.92" stroke="#000" stroke-width="1.5" />
<text x="0" y="0" text-anchor="end" style="font-size:8px;font-weight:bold;stroke:#000;stroke-width:0.22px;" transform="translate(430.10 334.45) scale(0.97 1)" >2100</text>
<line x1="430.60" y1="344.56" x2="433.90" y2="344.56" stroke="#000" stroke-width="1.5" />
<text x="0" y="0" text-anchor="end" style="font-size:8px;font-weight:bold;stroke:#000;stroke-width:0.22px;" transform="translate(430.10 347.09) scale(0.97 1)" >1600</text>
<line x1="430.60" y1="357.20" x2="433.90" y2="357.20" stroke="#000" stroke-width="1.5" />
<text x="0" y="0" text-anchor="end" style="font-size:8px;font-weight:bold;stroke:#000;stroke-width:0.22px;" transform="translate(430.10 359.73) scale(0.97 1)" >1100</text>
<line x1="430.60" y1="369.84" x2="433.90" y2="369.84" stroke="#000" stroke-width="1.5" />
<text x="0" y="0" text-anchor="end" style="font-size:8px;font-weight:bold;stroke:#000;stroke-width:0.22px;" transform="translate(430.10 372.37) scale(0.97 1)" >600</text>
<line x1="430.60" y1="382.48" x2="433.90" y2="382.48" stroke="#000" stroke-width="1.5" />
<text x="0" y="0" text-anchor="end" style="font-size:8px;font-weight:bold;stroke:#000;stroke-width:0.22px;" transform="translate(430.10 385.01) scale(0.97 1)" >100</text>
<line x1="431.40" y1="382.48" x2="436.40" y2="382.48" stroke="#000" stroke-width="1.0" />
<line x1="436.40" y1="382.48" x2="507.00" y2="382.48" stroke="#888" stroke-width="0.8" stroke-dasharray="1.2 0.8"/>
<line x1="433.90" y1="390.50" x2="433.90" y2="401.55" stroke="#000" stroke-width="1.5" />
<line x1="431.90" y1="390.50" x2="435.90" y2="390.50" stroke="#000" stroke-width="1.0" />
<line x1="430.60" y1="395.50" x2="433.90" y2="395.50" stroke="#000" stroke-width="1.5" />
<text x="0" y="0" text-anchor="end" style="font-size:8px;font-weight:bold;stroke:#000;stroke-width:0.22px;" transform="translate(430.10 398.03) scale(0.97 1)" >&lt;100</text>
<line x1="433.15" y1="400.90" x2="508.55" y2="400.90" stroke="#000" stroke-width="1.7" />
<line x1="433.90" y1="400.80" x2="433.90" y2="404.80" stroke="#000" stroke-width="1.5" />
<text x="433.90" y="413.30" text-anchor="middle" style="font-size:8.3px;font-weight:bold;stroke:#000;stroke-width:0.22px;" >0.0</text>
<line x1="448.68" y1="400.80" x2="448.68" y2="404.80" stroke="#000" stroke-width="1.5" />
<text x="448.68" y="413.30" text-anchor="middle" style="font-size:8.3px;font-weight:bold;stroke:#000;stroke-width:0.22px;" >0.5</text>
<line x1="463.46" y1="400.80" x2="463.46" y2="404.80" stroke="#000" stroke-width="1.5" />
<text x="463.46" y="413.30" text-anchor="middle" style="font-size:8.3px;font-weight:bold;stroke:#000;stroke-width:0.22px;" >1.0</text>
<line x1="478.24" y1="400.80" x2="478.24" y2="404.80" stroke="#000" stroke-width="1.5" />
<text x="478.24" y="413.30" text-anchor="middle" style="font-size:8.3px;font-weight:bold;stroke:#000;stroke-width:0.22px;" >1.5</text>
<line x1="493.02" y1="400.80" x2="493.02" y2="404.80" stroke="#000" stroke-width="1.5" />
<text x="493.02" y="413.30" text-anchor="middle" style="font-size:8.3px;font-weight:bold;stroke:#000;stroke-width:0.22px;" >2.0</text>
<line x1="507.80" y1="400.80" x2="507.80" y2="404.80" stroke="#000" stroke-width="1.5" />
<text x="507.80" y="413.30" text-anchor="middle" style="font-size:8.3px;font-weight:bold;stroke:#000;stroke-width:0.22px;" >2.5</text>
<text x="471.00" y="424.80" text-anchor="middle" style="font-size:9px;font-weight:bold;stroke:#000;stroke-width:0.22px;" >time (days)</text>
<text x="405.80" y="345.90" text-anchor="middle" style="font-size:9px;font-weight:bold;stroke:#000;stroke-width:0.22px;" transform="rotate(-90 405.80 345.90)" ><tspan style="letter-spacing:0.1px">IFN-</tspan><tspan dx="0.3" style="font-weight:normal;font-size:10.5px">&#945;</tspan><tspan dx="0.7"> [pg/mL]</tspan></text>
<line x1="433.90" y1="395.50" x2="493.02" y2="395.50" stroke="#000" stroke-width="1.35" />
<line x1="433.90" y1="395.50" x2="443.30" y2="390.80" stroke="#000" stroke-width="1.35" />
<line x1="463.46" y1="395.50" x2="470.00" y2="390.60" stroke="#000" stroke-width="1.35" />
<line x1="455.90" y1="382.48" x2="463.46" y2="377.60" stroke="#000" stroke-width="1.35" />
<line x1="463.46" y1="377.60" x2="493.02" y2="338.60" stroke="#000" stroke-width="1.35" />
<line x1="468.60" y1="382.48" x2="493.02" y2="314.00" stroke="#000" stroke-width="1.35" />
<line x1="480.50" y1="382.48" x2="493.02" y2="370.80" stroke="#000" stroke-width="1.35" />
<line x1="463.46" y1="373.30" x2="463.46" y2="381.40" stroke="#000" stroke-width="1.2" />
<line x1="460.66" y1="373.30" x2="466.26" y2="373.30" stroke="#000" stroke-width="1.2" />
<line x1="460.66" y1="381.40" x2="466.26" y2="381.40" stroke="#000" stroke-width="1.2" />
<line x1="493.02" y1="330.50" x2="493.02" y2="347.70" stroke="#000" stroke-width="1.2" />
<line x1="490.12" y1="330.50" x2="495.92" y2="330.50" stroke="#000" stroke-width="1.2" />
<line x1="490.12" y1="347.70" x2="495.92" y2="347.70" stroke="#000" stroke-width="1.2" />
<line x1="493.02" y1="308.00" x2="493.02" y2="319.00" stroke="#000" stroke-width="1.2" />
<line x1="490.12" y1="308.00" x2="495.92" y2="308.00" stroke="#000" stroke-width="1.2" />
<line x1="490.12" y1="319.00" x2="495.92" y2="319.00" stroke="#000" stroke-width="1.2" />
<line x1="493.02" y1="366.30" x2="493.02" y2="375.40" stroke="#000" stroke-width="1.2" />
<line x1="490.12" y1="366.30" x2="495.92" y2="366.30" stroke="#000" stroke-width="1.2" />
<line x1="490.12" y1="375.40" x2="495.92" y2="375.40" stroke="#000" stroke-width="1.2" />
<rect x="460.81" y="374.95" width="5.3" height="5.3" fill="#000"/>
<rect x="490.37" y="335.95" width="5.3" height="5.3" fill="#000"/>
<circle cx="493.02" cy="314.00" r="2.4" fill="#000" stroke="#000" stroke-width="0.9"/>
<rect x="490.77" y="368.55" width="4.50" height="4.50" fill="#fff" stroke="#000" stroke-width="1.1"/>
<circle cx="493.02" cy="395.50" r="1.95" fill="#fff" stroke="#000" stroke-width="1.1"/>
<rect x="461.21" y="393.25" width="4.50" height="4.50" fill="#fff" stroke="#000" stroke-width="1.1"/>
<rect x="432.15" y="393.75" width="3.50" height="3.50" fill="#fff" stroke="#000" stroke-width="1.1"/>
<circle cx="433.90" cy="395.50" r="1.8" fill="none" stroke="#000" stroke-width="1.1"/>
<line x1="433.90" y1="390.90" x2="433.90" y2="395.50" stroke="#000" stroke-width="1.0" />
<line x1="431.70" y1="390.90" x2="436.10" y2="390.90" stroke="#000" stroke-width="1.0" />
<line x1="438.50" y1="290.90" x2="453.60" y2="290.90" stroke="#000" stroke-width="1.35" />
<rect x="443.40" y="288.25" width="5.3" height="5.3" fill="#000"/>
<text x="456.00" y="294.40" text-anchor="start" style="font-size:9px;" >WT&gt;WT</text>
<line x1="438.50" y1="300.70" x2="453.60" y2="300.70" stroke="#000" stroke-width="1.35" />
<circle cx="446.05" cy="300.70" r="2.2" fill="#000" stroke="#000" stroke-width="0.9"/>
<text x="456.00" y="305.00" text-anchor="start" style="font-size:9px;" >WT&gt;<tspan style="font-style:italic">irf7</tspan><tspan dy="-3.3" style="font-size:6.8px;font-style:italic">-/-</tspan><tspan dy="3.3"></tspan></text>
<line x1="438.50" y1="311.10" x2="453.60" y2="311.10" stroke="#000" stroke-width="1.35" />
<rect x="444.03" y="309.08" width="4.05" height="4.05" fill="#fff" stroke="#000" stroke-width="1.15"/>
<text x="456.00" y="315.20" text-anchor="start" style="font-size:9px;" ><tspan style="font-style:italic">irf7</tspan><tspan dy="-3.3" style="font-size:6.8px;font-style:italic">-/-</tspan><tspan dy="3.3">&gt;WT</tspan></text>
<line x1="438.50" y1="324.70" x2="453.60" y2="324.70" stroke="#000" stroke-width="1.35" />
<circle cx="446.05" cy="324.70" r="2.0" fill="#fff" stroke="#000" stroke-width="1.15"/>
<text x="456.00" y="328.70" text-anchor="start" style="font-size:9px;" ><tspan style="font-style:italic">irf7</tspan><tspan dy="-3.3" style="font-size:6.8px;font-style:italic">-/-</tspan><tspan dy="3.3">&gt;</tspan><tspan style="font-style:italic">irf7</tspan><tspan dy="-3.3" style="font-size:6.8px;font-style:italic">-/-</tspan><tspan dy="3.3"></tspan></text>
<text x="34.90" y="456.20" text-anchor="start" style="font-size:13.2px;font-weight:bold;stroke:#000;stroke-width:0.22px;" >I</text>
<text x="116.60" y="469.40" text-anchor="middle" style="font-size:14.5px;font-weight:bold;stroke:#000;stroke-width:0.22px;" >HSV</text>
<line x1="73.70" y1="484.90" x2="73.70" y2="574.00" stroke="#000" stroke-width="1.5" />
<line x1="69.70" y1="485.50" x2="73.70" y2="485.50" stroke="#000" stroke-width="1.2" />
<text x="69.30" y="488.50" text-anchor="end" style="font-size:8.4px;font-weight:bold;stroke:#000;stroke-width:0.22px;" >2000</text>
<line x1="69.70" y1="504.02" x2="73.70" y2="504.02" stroke="#000" stroke-width="1.2" />
<text x="69.30" y="507.02" text-anchor="end" style="font-size:8.4px;font-weight:bold;stroke:#000;stroke-width:0.22px;" >1600</text>
<line x1="69.70" y1="522.54" x2="73.70" y2="522.54" stroke="#000" stroke-width="1.2" />
<text x="69.30" y="525.54" text-anchor="end" style="font-size:8.4px;font-weight:bold;stroke:#000;stroke-width:0.22px;" >1200</text>
<line x1="69.70" y1="541.06" x2="73.70" y2="541.06" stroke="#000" stroke-width="1.2" />
<text x="69.30" y="544.06" text-anchor="end" style="font-size:8.4px;font-weight:bold;stroke:#000;stroke-width:0.22px;" >800</text>
<line x1="69.70" y1="559.58" x2="73.70" y2="559.58" stroke="#000" stroke-width="1.2" />
<text x="69.30" y="562.58" text-anchor="end" style="font-size:8.4px;font-weight:bold;stroke:#000;stroke-width:0.22px;" >400</text>
<line x1="71.40" y1="573.50" x2="76.00" y2="573.50" stroke="#000" stroke-width="1.1" />
<line x1="76.00" y1="573.50" x2="118.70" y2="573.50" stroke="#8a8a8a" stroke-width="0.8" stroke-dasharray="1.2 0.8"/>
<line x1="73.70" y1="582.00" x2="73.70" y2="594.50" stroke="#000" stroke-width="1.5" />
<line x1="71.50" y1="582.00" x2="75.90" y2="582.00" stroke="#000" stroke-width="1.1" />
<line x1="69.70" y1="588.00" x2="73.70" y2="588.00" stroke="#000" stroke-width="1.2" />
<text x="69.30" y="591.00" text-anchor="end" style="font-size:8.4px;font-weight:bold;stroke:#000;stroke-width:0.22px;" >&lt;100</text>
<line x1="72.95" y1="593.90" x2="118.70" y2="593.90" stroke="#000" stroke-width="2.0" />
<rect x="82.20" y="484.80" width="5.0" height="5.0" fill="#000"/>
<rect x="82.20" y="499.90" width="5.0" height="5.0" fill="#000"/>
<rect x="75.50" y="510.50" width="5.0" height="5.0" fill="#000"/>
<rect x="82.20" y="515.00" width="5.0" height="5.0" fill="#000"/>
<rect x="82.10" y="521.70" width="5.0" height="5.0" fill="#000"/>
<line x1="77.40" y1="508.50" x2="93.00" y2="508.50" stroke="#000" stroke-width="1.1" />
<circle cx="103.20" cy="588.00" r="2.1" fill="#aaa" stroke="#000" stroke-width="1.25"/>
<circle cx="105.10" cy="588.00" r="2.1" fill="#aaa" stroke="#000" stroke-width="1.25"/>
<circle cx="107.00" cy="588.00" r="2.1" fill="#aaa" stroke="#000" stroke-width="1.25"/>
<circle cx="108.90" cy="588.00" r="2.1" fill="#aaa" stroke="#000" stroke-width="1.25"/>
<circle cx="110.80" cy="588.00" r="2.1" fill="#aaa" stroke="#000" stroke-width="1.25"/>
<line x1="99.30" y1="588.00" x2="114.90" y2="588.00" stroke="#000" stroke-width="1.1" />
<rect x="117.00" y="487.30" width="5.0" height="5.0" fill="#000"/>
<text x="130.50" y="492.90" text-anchor="start" style="font-size:9.5px;" >WT BM&gt;WT mice</text>
<circle cx="119.50" cy="503.80" r="1.8" fill="#fff" stroke="#000" stroke-width="1.0"/>
<text x="130.50" y="509.00" text-anchor="start" style="font-size:9.5px;" ><tspan style="font-style:italic">irf7</tspan><tspan dy="-3.3" style="font-size:6.8px;font-style:italic">-/-</tspan><tspan dy="3.3"> BM&gt;WT mice</tspan></text>
<text x="43.70" y="537.30" text-anchor="middle" style="font-size:9px;font-weight:bold;stroke:#000;stroke-width:0.22px;" transform="rotate(-90 43.70 537.30)" ><tspan style="letter-spacing:0.1px">IFN-</tspan><tspan dx="0.3" style="font-weight:normal;font-size:10.5px">&#945;</tspan><tspan dx="0.7"> [pg/mL]</tspan></text>
</g>
</svg></body></html>
